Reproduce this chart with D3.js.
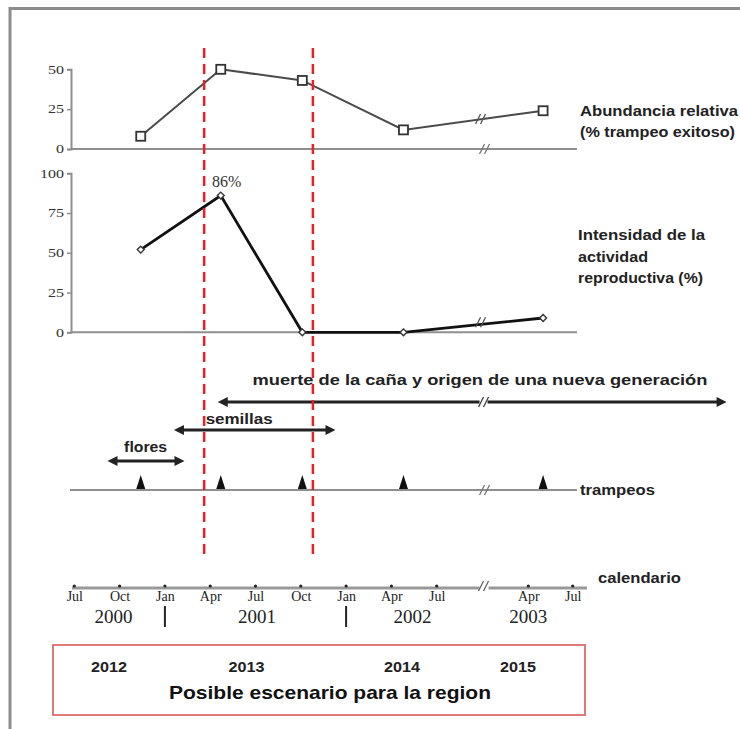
<!DOCTYPE html>
<html><head><meta charset="utf-8">
<script src="https://cdn.jsdelivr.net/npm/d3@7/dist/d3.min.js"></script>
<style>
html,body{margin:0;padding:0;background:#fff;}
svg{display:block;}
</style></head>
<body>
<svg id="chart" width="740" height="729"></svg>
<script>
// ---- data (months counted from Jan 2000 = 0) ----
const trapMonths = [10.4, 15.7, 21.1, 27.8, 40.0];
const abundance = [8, 50, 43, 12, 24];
const reproduction = [52, 86, 0, 0, 9];
const peakLabel = "86%";
const topTicks = [0, 25, 50];
const midTicks = [0, 25, 50, 75, 100];
const calTickMonths = [6, 9, 12, 15, 18, 21, 24, 27, 30, 39, 42];
const calTickLabels = ["Jul","Oct","Jan","Apr","Jul","Oct","Jan","Apr","Jul","Apr","Jul"];
const yearLabels = ["2000","2001","2002","2003"];
const yearMonths = [8.6, 18.1, 28.4, 39.0];
const yearDividers = [12, 24];
const scenarioYears = ["2012","2013","2014","2015"];
const scenarioMonths = [8.3, 17.4, 27.7, 38.0];
const phaseNames = ["flores", "semillas", "muerte de la caña y origen de una nueva generación"];
const phaseStart = [8.2, 12.6, 15.5];
const phaseEnd = [13.3, 23.3, 52.4];
const phaseTextStart = [9.3, 14.7, 17.8];
const redLines = [14.6, 21.8];
const breakMonth = 34.7;
const labelAbundance = ["Abundancia relativa", "(% trampeo exitoso)"];
const labelRepro = ["Intensidad de la", "actividad", "reproductiva (%)"];
const labelTraps = "trampeos";
const labelCal = "calendario";
const scenarioTitle = "Posible escenario para la region";

const svg = d3.select("#chart");
const x = d3.scaleLinear().domain([6, 30, 39, 42]).range([74.3, 436.7, 528.3, 572.7]);
const yTop = d3.scaleLinear().domain([0, 50]).range([149, 69.3]);
const yMid = d3.scaleLinear().domain([0, 100]).range([332.3, 173.3]);

const axisGray = "#8f8f8f";
const boldFont = "Liberation Sans, Arial, sans-serif";
const serif = "Liberation Serif, Times New Roman, serif";

// stretch bold labels horizontally like the source image
function boldLabel(xp, yp, t, size, width, anchor){
  const el = svg.append("text").attr("x", xp).attr("y", yp).text(t)
    .attr("font-family", boldFont).attr("font-weight","bold").attr("font-size", size).attr("fill","#222")
    .attr("text-anchor", anchor || "start");
  if (width) el.attr("textLength", width).attr("lengthAdjust", "spacingAndGlyphs");
  return el;
}

// frame
svg.append("path").attr("d", "M10,729 L10,8.5 L740,8.5")
  .attr("fill","none").attr("stroke","#8c8c8c").attr("stroke-width",3);

function breakMark(g, cx, cy, color){
  [-2.5, 2.5].forEach(o => {
    g.append("line").attr("x1", cx+o-2.5).attr("y1", cy+5).attr("x2", cx+o+2.5).attr("y2", cy-5)
      .attr("stroke", color).attr("stroke-width", 1.3);
  });
}

function yAxisPanel(scale, ticks){
  const g = svg.append("g").attr("transform", "translate(" + (x.range()[0]-3.3) + ",0)");
  g.call(d3.axisLeft(scale).tickValues(ticks).tickSize(4).tickPadding(3));
  g.select(".domain").attr("stroke", axisGray).attr("stroke-width", 2);
  g.selectAll(".tick line").attr("stroke", axisGray).attr("stroke-width", 1.5);
  g.selectAll(".tick text").attr("font-family", serif).attr("font-size", 12).attr("fill", "#333")
    .attr("textLength", d => String(d).length * 8).attr("lengthAdjust", "spacingAndGlyphs");
  return g;
}

// ---- top panel ----
yAxisPanel(yTop, topTicks);
svg.append("line").attr("x1", x.range()[0]-3.3).attr("x2", 577).attr("y1", yTop(0)).attr("y2", yTop(0))
  .attr("stroke", axisGray).attr("stroke-width", 2);
const topPts = trapMonths.map((m,i) => [x(m), yTop(abundance[i])]);
svg.append("path").attr("d", d3.line()(topPts)).attr("fill","none").attr("stroke","#4a4a4a").attr("stroke-width",2);
svg.selectAll(".sq").data(topPts).enter().append("rect")
  .attr("x", d => d[0]-4.5).attr("y", d => d[1]-4.5).attr("width", 9).attr("height", 9)
  .attr("fill","#fff").attr("stroke","#333").attr("stroke-width",1.8);
{
  const bx = x(breakMonth);
  const t = (breakMonth - trapMonths[3])/(trapMonths[4]-trapMonths[3]);
  const by = yTop(abundance[3] + t*(abundance[4]-abundance[3]));
  breakMark(svg, bx-4, by, "#555");
  breakMark(svg, bx, yTop(0), "#777");
}
const abWidths = [158, 155];
labelAbundance.forEach((t,i) => boldLabel(580, 116 + i*21, t, 15, abWidths[i]));

// ---- middle panel ----
yAxisPanel(yMid, midTicks);
svg.append("line").attr("x1", x.range()[0]-3.3).attr("x2", 577).attr("y1", yMid(0)).attr("y2", yMid(0))
  .attr("stroke", axisGray).attr("stroke-width", 2);
const midPts = trapMonths.map((m,i) => [x(m), yMid(reproduction[i])]);
svg.append("path").attr("d", d3.line()(midPts)).attr("fill","none").attr("stroke","#111").attr("stroke-width",2.8);
svg.selectAll(".dm").data(midPts).enter().append("path")
  .attr("transform", d => "translate(" + d[0] + "," + d[1] + ")")
  .attr("d", d3.symbol(d3.symbolDiamond2, 30)())
  .attr("fill","#fff").attr("stroke","#333").attr("stroke-width",1.4);
{
  const bx = x(breakMonth);
  const t = (breakMonth - trapMonths[3])/(trapMonths[4]-trapMonths[3]);
  const by = yMid(reproduction[3] + t*(reproduction[4]-reproduction[3]));
  breakMark(svg, bx-4, by - 2, "#555");
}
const peakIdx = reproduction.indexOf(d3.max(reproduction));
svg.append("text").attr("x", x(trapMonths[peakIdx]) + 6).attr("y", yMid(reproduction[peakIdx]) - 9)
  .attr("text-anchor","middle").attr("font-family", serif).attr("font-size", 16).attr("fill","#333")
  .text(peakLabel);
const reWidths = [127, 70, 125];
labelRepro.forEach((t,i) => boldLabel(578, 240 + i*21.5, t, 15, reWidths[i]));

// ---- phase arrows ----
const arrowY = [461, 430, 402];
const textY = [452, 424, 385];
const textW = [43, 67, 455];
const arrowColor = "#222";
phaseNames.forEach((name, i) => {
  const x1 = x(phaseStart[i]), x2 = x(phaseEnd[i]), y = arrowY[i];
  svg.append("line").attr("x1", x1+8).attr("x2", x2-8).attr("y1", y).attr("y2", y)
    .attr("stroke", arrowColor).attr("stroke-width", 3);
  svg.append("path").attr("d", `M${x1},${y} L${x1+10},${y-5} L${x1+10},${y+5} Z`).attr("fill", arrowColor);
  svg.append("path").attr("d", `M${x2},${y} L${x2-10},${y-5} L${x2-10},${y+5} Z`).attr("fill", arrowColor);
  boldLabel(x(phaseTextStart[i]), textY[i], name, 15, textW[i]);
  if (phaseEnd[i] > breakMonth) {
    const bx = x(breakMonth);
    svg.append("rect").attr("x", bx-5).attr("y", y-4).attr("width", 8).attr("height", 8).attr("fill","#fff");
    breakMark(svg, bx-1, y, "#444");
  }
});

// ---- trampeos line ----
const trapY = 490;
svg.append("line").attr("x1", 70).attr("x2", 577).attr("y1", trapY).attr("y2", trapY)
  .attr("stroke", axisGray).attr("stroke-width", 2);
svg.selectAll(".tri").data(trapMonths).enter().append("path")
  .attr("d", m => `M${x(m)},${trapY-15} L${x(m)+4.5},${trapY-1} L${x(m)-4.5},${trapY-1} Z`)
  .attr("fill","#111");
breakMark(svg, x(breakMonth), trapY, "#777");
boldLabel(580, 495, labelTraps, 15, 75);

// ---- red dashed lines ----
svg.selectAll(".red").data(redLines).enter().append("line")
  .attr("x1", d => x(d)).attr("x2", d => x(d)).attr("y1", 48).attr("y2", 560)
  .attr("stroke", "#e8202a").attr("stroke-width", 2.5).attr("stroke-dasharray", "10,6");

// ---- calendar axis ----
const calY = 588;
svg.append("line").attr("x1", 72).attr("x2", 587).attr("y1", calY).attr("y2", calY)
  .attr("stroke", "#999").attr("stroke-width", 3);
const calG = svg.append("g").attr("transform", `translate(0,${calY})`);
calG.call(d3.axisBottom(x).tickValues(calTickMonths).tickSize(0).tickPadding(3)
  .tickFormat((d,i) => calTickLabels[i]));
calG.select(".domain").remove();
calG.selectAll(".tick text").attr("font-family", serif).attr("font-size", 14).attr("fill","#222");
svg.selectAll(".cdot").data(calTickMonths).enter().append("circle")
  .attr("cx", d => x(d)).attr("cy", calY-2).attr("r", 1.6).attr("fill", "#222");
{
  const bx = x(breakMonth);
  svg.append("rect").attr("x", bx-5).attr("y", calY-3).attr("width", 9).attr("height", 6).attr("fill","#fff");
  breakMark(svg, bx-1, calY-2, "#666");
}
svg.selectAll(".yr").data(yearLabels).enter().append("text")
  .attr("x", (d,i) => x(yearMonths[i])).attr("y", 623).attr("text-anchor","middle")
  .attr("font-family", serif).attr("font-size", 19).attr("fill","#222").text(d => d);
svg.selectAll(".ydiv").data(yearDividers).enter().append("line")
  .attr("x1", d => x(d)).attr("x2", d => x(d)).attr("y1", 606).attr("y2", 627)
  .attr("stroke", "#222").attr("stroke-width", 2);
boldLabel(598, 583, labelCal, 15, 83);

// ---- scenario box ----
svg.append("rect").attr("x", 53).attr("y", 645).attr("width", 532).attr("height", 70)
  .attr("fill","#fff").attr("stroke","#e07a7a").attr("stroke-width", 2);
scenarioYears.forEach((t,i) => boldLabel(x(scenarioMonths[i]), 672, t, 14, 36, "middle"));
boldLabel(330, 699, scenarioTitle, 19, 322, "middle").attr("fill", "#111");
</script>
</body></html>
